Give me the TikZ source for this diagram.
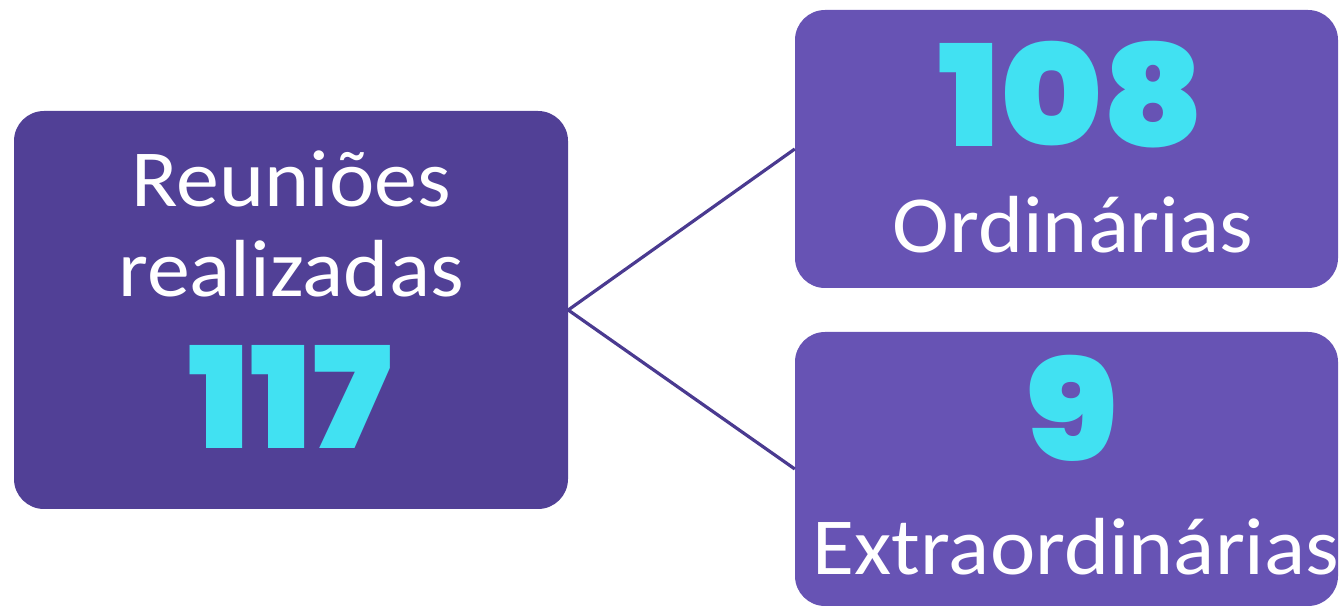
\documentclass[tikz,border=0pt]{standalone}
\usepackage{fontspec}
\setmainfont{Carlito}[FakeStretch=1.06]
\newfontfamily\pop{Poppins Black}[FakeStretch=1.1]
\definecolor{darkbox}{HTML}{514096}
\definecolor{lightbox}{HTML}{6753B4}
\definecolor{numcyan}{HTML}{41E1F2}
\definecolor{linecol}{HTML}{4A3A90}
\tikzset{
  box/.style={rounded corners=30pt, inner sep=0pt},
  lbl/.style={anchor=base, text=white, inner sep=0pt, font=\fontsize{81}{92}\selectfont},
  num/.style={anchor=base, text=numcyan, inner sep=0pt, font=\pop\fontsize{141}{141}\selectfont},
  conn/.style={draw=linecol, line width=3.2pt}
}
\begin{document}
\begin{tikzpicture}[x=1pt,y=1pt]
\useasboundingbox (0,0) rectangle (1340,607);
\node[box, fill=darkbox, minimum width=554pt, minimum height=398pt] (L) at (291,297) {};
\node[box, fill=lightbox, minimum width=543pt, minimum height=278pt] (T) at (1066.5,458) {};
\node[box, fill=lightbox, minimum width=543pt, minimum height=274pt] (B) at (1066.5,138) {};
\draw[conn] (L.east) -- (T.west);
\draw[conn] (L.east) -- (B.west);
\node[lbl] (l1) at (291,400) {Reuniões};
\node[lbl] (l2) at (291,310) {realizadas};
\node[num] (n1) at (290,158) {117};
\node[num] (n2) at (1071.5,460) {108};
\node[lbl] (t1) at (1073,354) {Ordinárias};
\node[num] (n3) at (1072,146) {9};
\node[lbl] (b1) at (1076,32) {Extraordinárias};
\end{tikzpicture}
\end{document}
